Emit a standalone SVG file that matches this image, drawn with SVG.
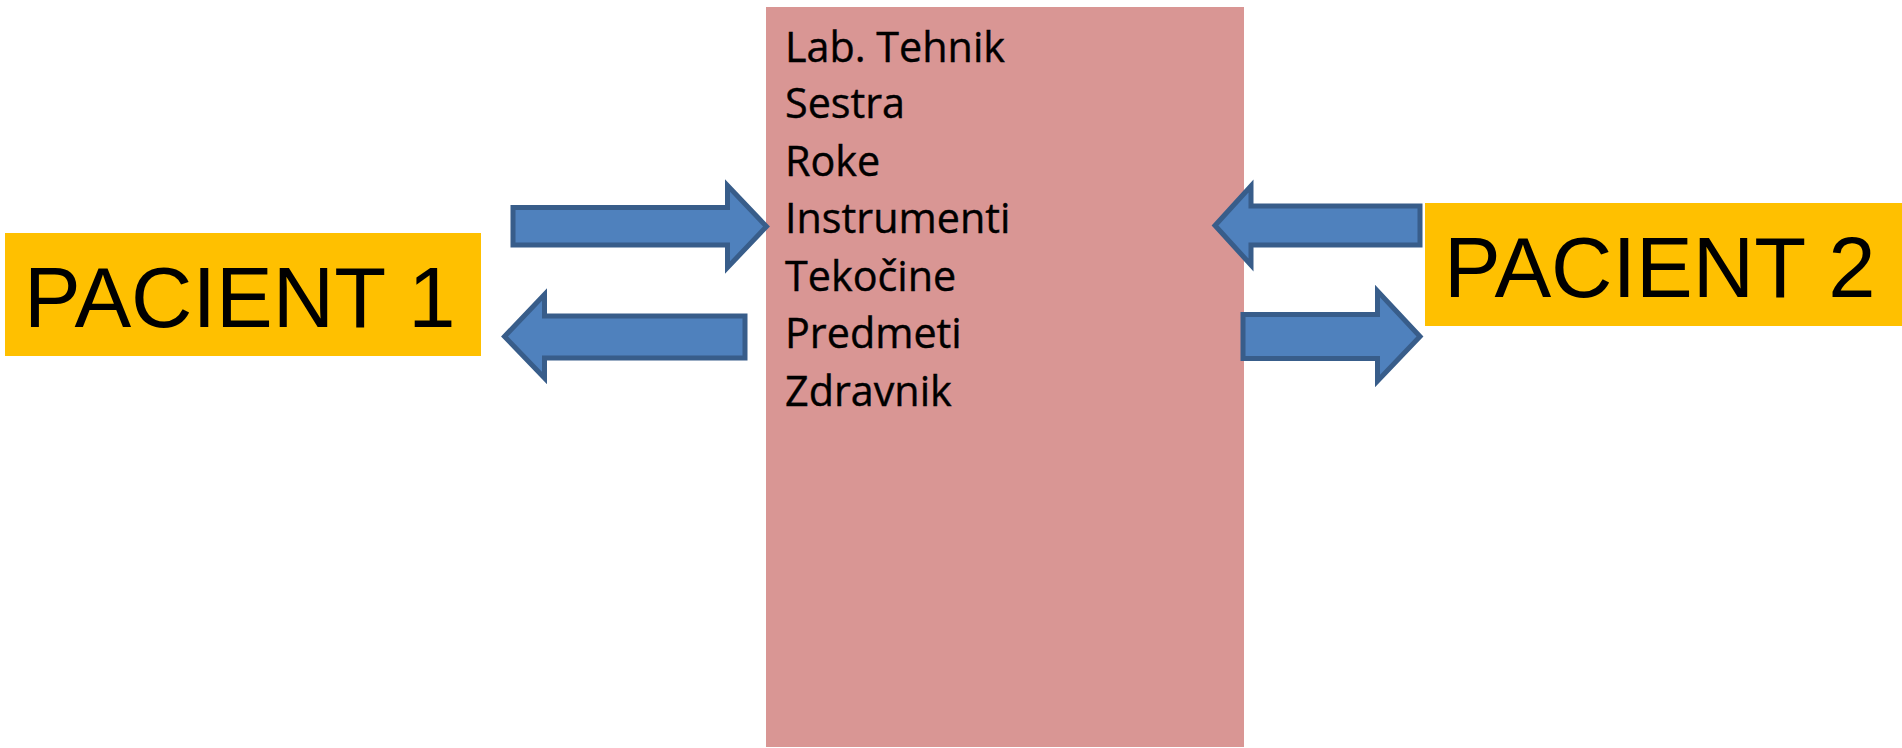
<svg xmlns="http://www.w3.org/2000/svg" width="1902" height="748" viewBox="0 0 1902 748">
<style>
.pink{fill:#D99694}
.yel{fill:#FFC000}
.pt{font-family:"Liberation Sans",Arial,sans-serif;font-size:85px;fill:#000}
.lst{font-family:"Open Sans","Noto Sans",sans-serif;font-size:41.3px;fill:#000;stroke:#000;stroke-width:0.4}
.arr{fill:#4F81BD;stroke:#385D8A;stroke-width:5;stroke-linejoin:miter}
</style>
<rect width="1902" height="748" fill="#fff"/>
<g id="center">
<rect class="pink" x="766" y="7" width="478" height="740"/>
<text class="lst" x="785" y="62">Lab. Tehnik</text>
<text class="lst" x="785" y="118.3">Sestra</text>
<text class="lst" x="785" y="175.7">Roke</text>
<text class="lst" x="785" y="233.3">Instrumenti</text>
<text class="lst" x="785" y="290.7">Tekočine</text>
<text class="lst" x="785" y="348.3">Predmeti</text>
<text class="lst" x="785" y="406">Zdravnik</text>
</g>
<g id="pacient1">
<rect class="yel" x="5" y="233" width="476" height="123"/>
<text class="pt" x="24" y="326.7">PACIENT 1</text>
</g>
<g id="pacient2">
<rect class="yel" x="1425" y="203" width="477" height="123"/>
<text class="pt" x="1444" y="296.7">PACIENT 2</text>
</g>
<g id="connectors">
<polygon class="arr" points="513,207.5 727.5,207.5 727.5,185.5 766.5,226.5 727.5,267.5 727.5,245 513,245"/>
<polygon class="arr" points="745,316 544.5,316 544.5,294.5 504.5,336.5 544.5,378 544.5,358 745,358"/>
<polygon class="arr" points="1420,206 1251,206 1251,186 1215,225.5 1251,265 1251,245 1420,245"/>
<polygon class="arr" points="1243,314.5 1377.5,314.5 1377.5,291 1420,336.5 1377.5,381 1377.5,358.5 1243,358.5"/>
</g>
</svg>
